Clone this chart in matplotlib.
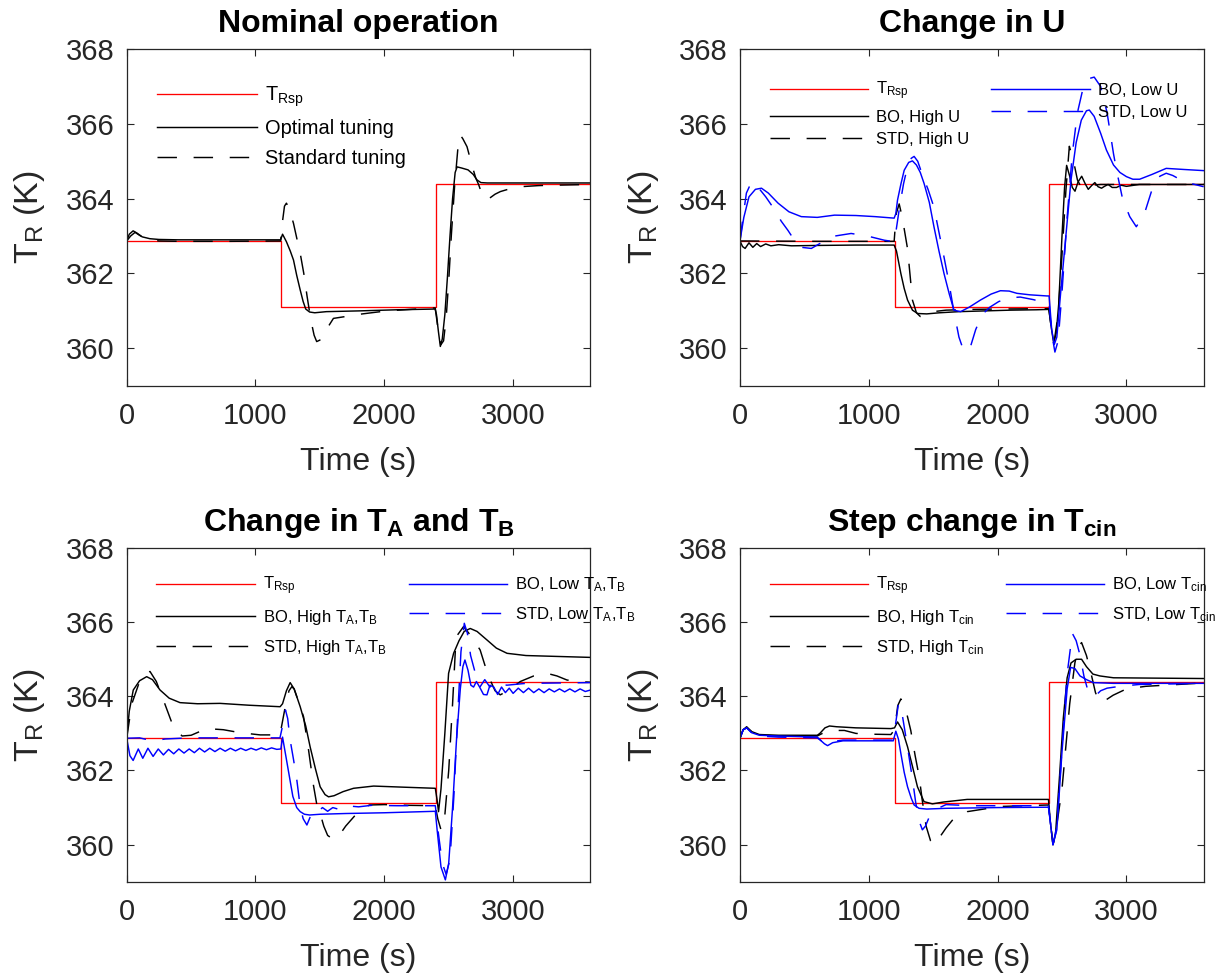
import matplotlib
matplotlib.use("Agg")
import matplotlib.pyplot as plt

plt.rcParams['font.family'] = ['Liberation Sans', 'DejaVu Sans']
plt.rcParams['mathtext.fontset'] = 'custom'
plt.rcParams['mathtext.rm'] = 'Liberation Sans'
plt.rcParams['mathtext.it'] = 'Liberation Sans'
plt.rcParams['mathtext.bf'] = 'Liberation Sans:bold'
plt.rcParams['lines.scale_dashes'] = False

# setpoint (same in all panels)
sp_t = [0, 1200, 1200, 2400, 2400, 3600]
sp_T = [362.87, 362.87, 361.11, 361.11, 364.38, 364.38]

# ---- Nominal operation
nom_opt_t = [0, 20, 50, 80, 120, 180, 250, 400, 800, 1195, 1210, 1240, 1270, 1295, 1320, 1347,
             1370, 1390, 1420, 1460, 1550, 1800, 2100, 2395, 2405, 2420, 2435, 2450, 2470, 2490,
             2510, 2530, 2550, 2565, 2600, 2650, 2690, 2720, 2750, 2800, 3000, 3600]
nom_opt_T = [362.87, 363.05, 363.14, 363.08, 362.98, 362.93, 362.91, 362.90, 362.90, 362.90, 363.05,
             362.85, 362.6, 362.36, 361.95, 361.56, 361.25, 361.05, 360.97, 360.95, 360.98, 361.0,
             361.03, 361.05, 360.9, 360.45, 360.05, 360.25, 360.9, 361.9, 363.0, 364.0, 364.7,
             364.85, 364.82, 364.77, 364.65, 364.5, 364.43, 364.42, 364.42, 364.42]
nom_std_t = [0, 30, 65, 100, 150, 250, 400, 800, 1195, 1210, 1225, 1240, 1260, 1295, 1320, 1347,
             1375, 1400, 1430, 1455, 1475, 1500, 1550, 1605, 1700, 1761, 1900, 2020, 2200, 2357,
             2395, 2410, 2425, 2440, 2460, 2480, 2500, 2520, 2545, 2570, 2590, 2610, 2642, 2680,
             2710, 2732, 2760, 2784, 2820, 2860, 2901, 2980, 3056, 3200, 3315, 3600]
nom_std_T = [362.87, 363.0, 363.1, 363.02, 362.93, 362.87, 362.86, 362.86, 362.87, 363.4, 363.8,
             363.88, 363.75, 363.34, 362.95, 362.54, 362.0, 361.4, 360.75, 360.35, 360.18, 360.22,
             360.5, 360.8, 360.85, 360.89, 360.95, 361.0, 361.04, 361.07, 361.08, 360.7, 360.3,
             360.1, 360.2, 360.8, 361.8, 363.0, 364.3, 365.3, 365.7, 365.6, 365.39, 364.9, 364.55,
             364.38, 364.1, 363.98, 364.02, 364.12, 364.19, 364.27, 364.32, 364.35, 364.36, 364.38]

# ---- Change in U
u_bo_hi_t = [0, 20, 40, 70, 100, 130, 160, 200, 240, 300, 400, 600, 900, 1197, 1215, 1249, 1275,
             1301, 1339, 1380, 1450, 1550, 1700, 1900, 2100, 2300, 2398, 2415, 2435, 2455, 2475,
             2500, 2520, 2536, 2560, 2580, 2601, 2625, 2653, 2680, 2704, 2730, 2755, 2780, 2807,
             2830, 2858, 2890, 2923, 2960, 3000, 3100, 3600]
u_bo_hi_T = [362.87, 362.72, 362.67, 362.82, 362.7, 362.8, 362.72, 362.79, 362.74, 362.77, 362.74,
             362.75, 362.76, 362.76, 362.6, 362.0, 361.6, 361.29, 361.02, 360.93, 360.92, 360.95,
             360.98, 361.0, 361.02, 361.03, 361.04, 360.6, 360.15, 360.4, 361.2, 363.0, 364.3,
             364.89, 364.6, 364.3, 364.2, 364.45, 364.6, 364.4, 364.25, 364.35, 364.43, 364.32,
             364.28, 364.33, 364.38, 364.3, 364.3, 364.36, 364.33, 364.38, 364.38]
u_std_hi_t = [0, 600, 1197, 1213, 1236, 1260, 1301, 1339, 1370, 1400, 1450, 1500, 1600, 1800,
              2000, 2398, 2415, 2440, 2470, 2500, 2530, 2557, 2590, 2620, 2650, 2700, 2800, 3600]
u_std_hi_T = [362.87, 362.86, 362.86, 363.6, 363.86, 363.5, 362.66, 361.29, 360.95, 360.85,
              360.9, 360.98, 361.02, 361.04, 361.05, 361.06, 360.6, 360.2, 360.9, 362.5, 364.2,
              365.4, 365.0, 364.5, 364.3, 364.35, 364.38, 364.38]
u_bo_lo_t = [0, 30, 70, 120, 167, 220, 296, 380, 476, 600, 734, 900, 1050, 1197, 1210, 1223,
             1250, 1275, 1310, 1339, 1370, 1400, 1429, 1470, 1506, 1545, 1584, 1625, 1661, 1713,
             1780, 1867, 1950, 2022, 2090, 2150, 2250, 2382, 2400, 2420, 2440, 2460, 2490, 2530,
             2570, 2610, 2650, 2690, 2712, 2750, 2800, 2845, 2900, 2950, 3000, 3050, 3103, 3200,
             3309, 3450, 3600]
u_bo_lo_T = [362.87, 363.5, 364.05, 364.25, 364.28, 364.15, 363.88, 363.65, 363.52, 363.5, 363.56,
             363.55, 363.52, 363.48, 363.6, 363.96, 364.4, 364.76, 364.97, 365.01, 364.9, 364.7,
             364.41, 363.9, 363.25, 362.6, 362.0, 361.45, 361.02, 360.98, 361.1, 361.29, 361.45,
             361.54, 361.53, 361.47, 361.43, 361.40, 361.4, 360.5, 360.1, 360.3, 361.5, 363.0,
             364.5, 365.5, 366.1, 366.35, 366.37, 366.2, 365.75, 365.3, 364.9, 364.7, 364.59,
             364.52, 364.52, 364.65, 364.81, 364.78, 364.75]
u_std_lo_t = [0, 25, 50, 90, 130, 200, 270, 320, 373, 430, 476, 554, 630, 734, 863, 991, 1120,
              1197, 1210, 1240, 1270, 1300, 1330, 1352, 1380, 1420, 1460, 1506, 1545, 1584, 1620,
              1660, 1700, 1730, 1754, 1790, 1830, 1880, 1940, 2009, 2090, 2176, 2280, 2382, 2400,
              2420, 2445, 2470, 2500, 2540, 2580, 2620, 2660, 2700, 2750, 2800, 2850, 2900, 2923,
              2970, 3026, 3077, 3140, 3206, 3260, 3309, 3360, 3450, 3600]
u_std_lo_T = [362.87, 363.55, 364.15, 364.45, 364.35, 364.05, 363.7, 363.4, 363.15, 362.85, 362.7,
              362.67, 362.82, 363.0, 363.07, 363.0, 362.89, 362.85, 363.1, 363.8, 364.4, 364.85,
              365.08, 365.13, 365.0, 364.6, 364.25, 363.77, 363.1, 362.44, 361.8, 361.0, 360.3,
              360.0, 359.9, 360.05, 360.5, 360.9, 361.1, 361.25, 361.35, 361.37, 361.3, 361.2,
              361.2, 360.4, 359.9, 360.2, 361.5, 363.5, 365.2, 366.3, 366.9, 367.2, 367.25, 367.0,
              366.3, 365.2, 364.77, 364.0, 363.52, 363.25, 363.6, 364.32, 364.6, 364.68, 364.62,
              364.45, 364.32]

# ---- Change in TA and TB
ab_bo_hi_t = [0, 20, 51, 100, 155, 200, 259, 330, 414, 550, 725, 950, 1191, 1210, 1240, 1269,
              1300, 1347, 1390, 1424, 1465, 1502, 1540, 1567, 1610, 1680, 1761, 1917, 2150, 2396,
              2410, 2421, 2440, 2470, 2499, 2538, 2580, 2620, 2667, 2720, 2797, 2870, 2953, 3100,
              3300, 3600]
ab_bo_hi_T = [362.87, 363.6, 364.17, 364.42, 364.53, 364.45, 364.17, 363.95, 363.83, 363.8,
              363.81, 363.76, 363.72, 363.8, 364.15, 364.37, 364.2, 363.72, 363.2, 362.64, 362.05,
              361.56, 361.35, 361.29, 361.32, 361.43, 361.52, 361.58, 361.55, 361.52, 361.2,
              360.89, 361.5, 363.0, 364.62, 365.16, 365.5, 365.75, 365.83, 365.75, 365.52, 365.3,
              365.16, 365.1, 365.08, 365.05]
ab_std_hi_t = [0, 40, 100, 150, 181, 230, 285, 362, 430, 500, 621, 750, 880, 1036, 1190, 1230,
               1260, 1282, 1300, 1330, 1373, 1410, 1450, 1480, 1502, 1530, 1560, 1600, 1650, 1700,
               1776, 1830, 1885, 2000, 2200, 2396, 2415, 2440, 2470, 2500, 2530, 2557, 2615, 2680,
               2744, 2780, 2822, 2860, 2900, 2960, 3056, 3160, 3263, 3340, 3418, 3500, 3600]
ab_std_hi_T = [362.87, 363.8, 364.4, 364.62, 364.67, 364.4, 363.9, 363.18, 362.93, 362.95, 363.13,
               363.1, 363.02, 362.96, 362.96, 363.7, 364.15, 364.26, 364.2, 363.9, 363.45, 362.6,
               361.6, 361.0, 360.84, 360.5, 360.25, 360.15, 360.25, 360.5, 360.8, 360.98, 361.07,
               361.08, 361.06, 361.05, 360.7, 360.4, 360.8, 362.0, 363.8, 365.6, 365.88, 365.6,
               365.25, 364.85, 364.44, 364.15, 364.04, 364.15, 364.4, 364.55, 364.62, 364.55,
               364.44, 364.4, 364.38]
ab_bo_lo_t = [0, 25, 50, 90, 125, 165, 205, 245, 285, 325, 365, 405, 445, 485, 525, 565, 605,
              645, 685, 725, 765, 805, 845, 885, 925, 965, 1005, 1045, 1085, 1125, 1165, 1197,
              1210, 1230, 1260, 1290, 1320, 1347, 1380, 1420, 1502, 1700, 2000, 2396, 2410, 2440,
              2474, 2500, 2530, 2560, 2590, 2610, 2626, 2650, 2672, 2693, 2715, 2740, 2770, 2797,
              2820, 2850, 2880, 2910, 2940, 2970, 3000, 3040, 3080, 3120, 3160, 3200, 3240, 3280,
              3320, 3360, 3400, 3440, 3480, 3520, 3560, 3600]
ab_bo_lo_T = [362.87, 362.4, 362.27, 362.58, 362.33, 362.6, 362.38, 362.58, 362.42, 362.57,
              362.45, 362.58, 362.47, 362.58, 362.48, 362.6, 362.5, 362.6, 362.51, 362.6, 362.52,
              362.6, 362.53, 362.6, 362.54, 362.6, 362.55, 362.61, 362.56, 362.61, 362.57, 362.58,
              362.9, 362.5, 361.9, 361.3, 361.0, 360.89, 360.82, 360.8, 360.82, 360.84, 360.86,
              360.9, 360.4, 359.4, 359.05, 359.5, 361.0, 362.8, 364.2, 364.8, 364.98, 364.7, 364.3,
              364.25, 364.4, 364.25, 364.05, 364.04, 364.3, 364.25, 364.05, 364.25, 364.1, 364.22,
              364.08, 364.22, 364.1, 364.22, 364.1, 364.2, 364.1, 364.2, 364.12, 364.2, 364.12,
              364.2, 364.12, 364.2, 364.13, 364.17]
ab_std_lo_t = [0, 100, 200, 300, 480, 1190, 1210, 1233, 1250, 1269, 1295, 1321, 1347, 1370, 1399,
               1425, 1450, 1480, 1520, 1560, 1600, 1650, 1700, 1800, 1900, 2100, 2396, 2420, 2450,
               2480, 2510, 2540, 2570, 2595, 2621, 2645, 2670, 2693, 2720, 2744, 2780, 2820, 2870,
               2950, 3100, 3600]
ab_std_lo_T = [362.87, 362.88, 362.8, 362.85, 362.88, 362.88, 363.2, 363.63, 363.4, 362.82, 362.3,
               361.74, 361.02, 360.7, 360.53, 360.75, 360.93, 360.88, 361.0, 360.9, 361.0, 360.95,
               361.05, 361.02, 361.06, 361.05, 361.05, 360.3, 359.5, 359.2, 359.6, 361.3, 363.5,
               365.2, 365.97, 365.7, 365.1, 364.8, 364.45, 364.26, 364.45, 364.25, 364.4, 364.3,
               364.35, 364.37]

# ---- Step change in Tcin
c_bo_hi_t = [0, 25, 52, 90, 150, 300, 600, 620, 660, 695, 750, 900, 1172, 1200, 1223, 1260, 1301,
             1340, 1378, 1429, 1494, 1580, 1764, 2000, 2395, 2410, 2430, 2450, 2480, 2510, 2540,
             2570, 2610, 2652, 2690, 2740, 2794, 2900, 3600]
c_bo_hi_T = [362.87, 363.1, 363.18, 363.05, 362.97, 362.95, 362.95, 363.0, 363.15, 363.2, 363.18,
             363.15, 363.13, 363.15, 363.31, 363.1, 362.64, 362.1, 361.56, 361.16, 361.1, 361.15,
             361.22, 361.22, 361.22, 360.6, 360.0, 360.3, 361.8, 363.4, 364.5, 364.9, 365.0, 365.0,
             364.8, 364.6, 364.55, 364.5, 364.48]
c_std_hi_t = [0, 25, 52, 90, 150, 300, 600, 640, 700, 811, 900, 1000, 1172, 1200, 1225, 1249, 1280,
              1326, 1360, 1391, 1415, 1445, 1480, 1506, 1540, 1600, 1661, 1764, 2022, 2395, 2410,
              2430, 2450, 2500, 2560, 2600, 2630, 2652, 2690, 2730, 2760, 2794, 2840, 2897, 3000,
              3150, 3300, 3600]
c_std_hi_T = [362.87, 363.1, 363.15, 363.05, 362.95, 362.93, 362.93, 363.0, 363.08, 363.08, 363.0,
              362.98, 362.97, 363.1, 363.75, 363.93, 363.75, 363.08, 362.4, 361.84, 361.2, 360.5,
              360.1, 360.0, 360.15, 360.45, 360.71, 360.89, 361.03, 361.07, 360.6, 360.0, 360.3,
              361.5, 363.8, 364.9, 365.35, 365.45, 365.1, 364.55, 364.1, 363.83, 363.9, 364.03,
              364.2, 364.27, 364.3, 364.36]
c_bo_lo_t = [0, 25, 52, 90, 150, 300, 600, 630, 656, 680, 720, 800, 1000, 1190, 1210, 1230, 1249,
             1275, 1301, 1330, 1352, 1390, 1450, 1600, 2000, 2395, 2410, 2430, 2460, 2500, 2540,
             2567, 2600, 2640, 2690, 2742, 2900, 3600]
c_bo_lo_T = [362.87, 363.1, 363.15, 363.02, 362.95, 362.93, 362.9, 362.8, 362.72, 362.67, 362.75,
             362.8, 362.8, 362.8, 363.06, 362.85, 362.46, 361.95, 361.56, 361.25, 361.07, 360.98,
             360.96, 360.98, 361.0, 361.01, 360.6, 360.0, 360.4, 362.5, 364.2, 364.78, 364.75,
             364.55, 364.45, 364.37, 364.35, 364.35]
c_std_lo_t = [0, 25, 52, 90, 150, 300, 600, 640, 680, 720, 800, 1000, 1190, 1210, 1231, 1260, 1300,
              1340, 1365, 1395, 1416, 1440, 1470, 1506, 1550, 1600, 1800, 2395, 2410, 2430, 2460,
              2500, 2540, 2580, 2610, 2640, 2670, 2704, 2755, 2800, 2850, 2950, 3100, 3600]
c_std_lo_T = [362.87, 363.1, 363.15, 363.02, 362.93, 362.9, 362.88, 362.78, 362.72, 362.78, 362.82,
              362.82, 362.82, 363.3, 363.82, 363.5, 362.65, 361.75, 361.12, 360.6, 360.4, 360.5,
              360.75, 360.9, 361.0, 361.08, 361.05, 361.05, 360.6, 360.0, 360.5, 362.6, 364.6,
              365.7, 365.5, 365.11, 364.55, 364.12, 364.0, 364.15, 364.22, 364.27, 364.32, 364.35]

DASH = (0, (14, 12))
GRAY = '0.15'
LW = 1.05

fig = plt.figure(figsize=(12.3, 9.77), dpi=100)
W = 0.377
positions = [[0.103, 0.6052, W, 0.3446], [0.6016, 0.6052, W, 0.3446],
             [0.103, 0.0975, W, 0.3416], [0.6016, 0.0975, W, 0.3416]]


def style_axes(ax, title):
    ax.set_xlim(0, 3600)
    ax.set_ylim(359, 368)
    ax.set_xticks([0, 1000, 2000, 3000])
    ax.set_yticks([360, 362, 364, 366, 368])
    ax.tick_params(direction='in', length=5, width=0.8, top=True, right=True,
                   colors=GRAY, labelsize=21)
    ax.tick_params(axis='x', pad=12)
    ax.tick_params(axis='y', pad=9)
    for s in ax.spines.values():
        s.set_color(GRAY)
        s.set_linewidth(0.9)
    ax.set_xlabel('Time (s)', fontsize=23, color=GRAY, labelpad=12)
    ax.set_ylabel(r'T$_\mathregular{R}$ (K)', fontsize=24.5, color=GRAY, labelpad=13)
    ax.set_title(title, fontsize=23, fontweight='bold', pad=12)


# Nominal
ax = fig.add_axes(positions[0])
ax.plot(sp_t, sp_T, color='red', lw=0.95, label=r'T$_\mathregular{Rsp}$')
ax.plot(nom_opt_t, nom_opt_T, color='black', lw=LW, label='Optimal tuning')
ax.plot(nom_std_t, nom_std_T, color='black', lw=LW, linestyle=DASH, label='Standard tuning')
style_axes(ax, 'Nominal operation')
ax.legend(loc='upper left', bbox_to_anchor=(0.065, 0.895), frameon=False, fontsize=14.4,
          handlelength=5.0, handletextpad=0.4, labelspacing=0.52, borderpad=0, borderaxespad=0)

panels = [
    (1, 'Change in U', 'U', 'U',
     (u_bo_hi_t, u_bo_hi_T), (u_std_hi_t, u_std_hi_T), (u_bo_lo_t, u_bo_lo_T), (u_std_lo_t, u_std_lo_T)),
    (2, r'Change in $\mathbf{T_A}$ and $\mathbf{T_B}$',
     r'T$_\mathregular{A}$,T$_\mathregular{B}$', r'T$_\mathregular{A}$,T$_\mathregular{B}$',
     (ab_bo_hi_t, ab_bo_hi_T), (ab_std_hi_t, ab_std_hi_T), (ab_bo_lo_t, ab_bo_lo_T), (ab_std_lo_t, ab_std_lo_T)),
    (3, r'Step change in $\mathbf{T_{cin}}$',
     r'T$_\mathregular{cin}$', r'T$_\mathregular{cin}$',
     (c_bo_hi_t, c_bo_hi_T), (c_std_hi_t, c_std_hi_T), (c_bo_lo_t, c_bo_lo_T), (c_std_lo_t, c_std_lo_T)),
]

for idx, title, hi, lo, bo_hi, std_hi, bo_lo, std_lo in panels:
    ax = fig.add_axes(positions[idx])
    ax.plot(sp_t, sp_T, color='red', lw=0.95, label=r'T$_\mathregular{Rsp}$')
    ax.plot(*bo_hi, color='black', lw=LW, label='BO, High ' + hi)
    ax.plot(*std_hi, color='black', lw=LW, linestyle=DASH, label='STD, High ' + hi)
    ax.plot(*bo_lo, color='blue', lw=LW, label='BO, Low ' + lo)
    ax.plot(*std_lo, color='blue', lw=LW, linestyle=DASH, label='STD, Low ' + lo)
    style_axes(ax, title)
    if idx == 1:
        top, lsp = 0.909, 0.45
    else:
        top, lsp = 0.92, 0.66
    ax.legend(loc='upper left', bbox_to_anchor=(0.064, top), frameon=False, fontsize=12,
              ncol=2, handlelength=5.9, handletextpad=0.5, labelspacing=lsp, columnspacing=1.3,
              borderpad=0, borderaxespad=0)

fig.savefig('out.png', dpi=100)
